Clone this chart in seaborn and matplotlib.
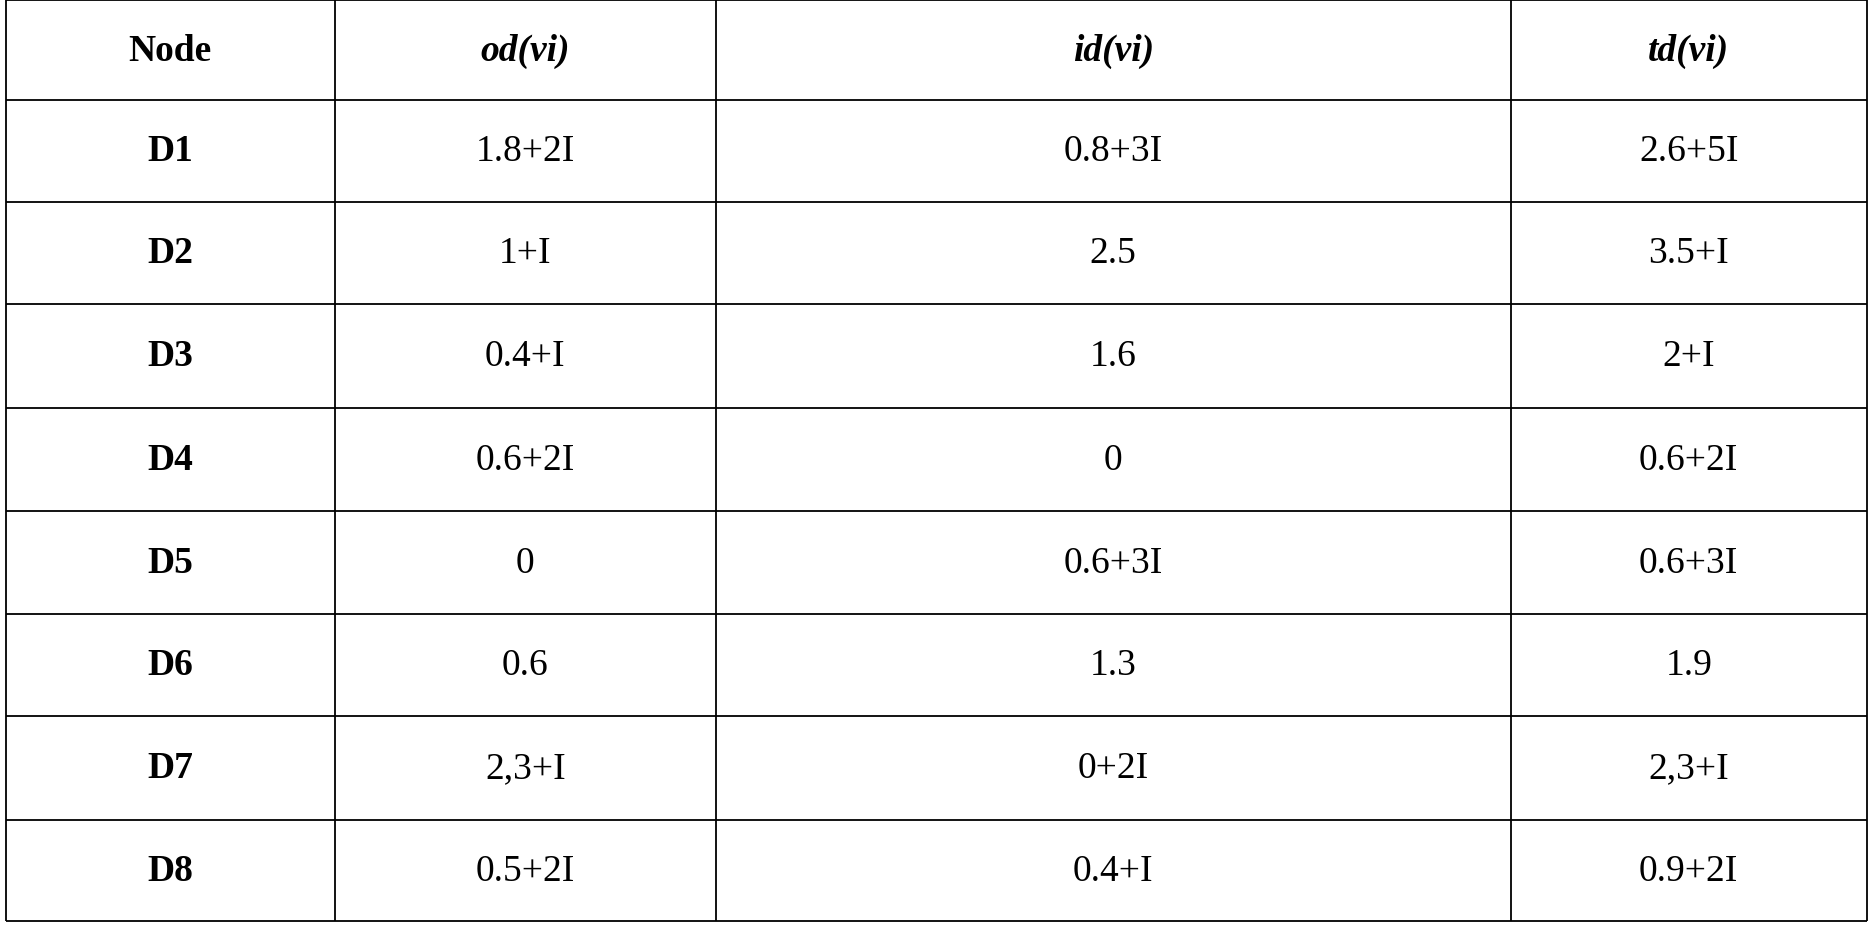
import matplotlib
matplotlib.use("Agg")
import matplotlib.pyplot as plt
import seaborn as sns

headers = ["Node", "od(vi)", "id(vi)", "td(vi)"]
nodes = ["D1", "D2", "D3", "D4", "D5", "D6", "D7", "D8"]
od = ["1.8+2I", "1+I", "0.4+I", "0.6+2I", "0", "0.6", "2,3+I", "0.5+2I"]
idv = ["0.8+3I", "2.5", "1.6", "0", "0.6+3I", "1.3", "0+2I", "0.4+I"]
td = ["2.6+5I", "3.5+I", "2+I", "0.6+2I", "0.6+3I", "1.9", "2,3+I", "0.9+2I"]

sns.set_theme(style="white")
plt.rcParams['font.family'] = ['Liberation Serif', 'DejaVu Serif']

fig = plt.figure(figsize=(18.68, 9.28), dpi=100)
ax = fig.add_axes([0, 0, 1, 1])
ax.set_xlim(0, 1568)
ax.set_ylim(779, 0)
ax.axis("off")

col_edges = [5, 281, 601, 1268, 1567]
row_edges = [1, 85, 170, 256, 343, 430, 516, 602, 689, 774]

for y in row_edges:
    ax.hlines(y, col_edges[0], col_edges[-1], color="black", lw=1.3)
for x in col_edges:
    ax.vlines(x, row_edges[0], row_edges[-1], color="black", lw=1.3)

centers = [(col_edges[i] + col_edges[i + 1]) / 2 for i in range(4)]
for j, h in enumerate(headers):
    ax.text(centers[j], (row_edges[0] + row_edges[1]) / 2, h, ha="center", va="center",
            fontsize=27, fontweight="bold", color="black",
            style="normal" if j == 0 else "italic")

cols = [nodes, od, idv, td]
for i in range(len(nodes)):
    yc = (row_edges[i + 1] + row_edges[i + 2]) / 2
    for j, c in enumerate(cols):
        ax.text(centers[j], yc, c[i], ha="center", va="center", fontsize=27,
                color="black", fontweight="bold" if j == 0 else "normal")

fig.savefig("out.png", dpi=100, facecolor="white")
